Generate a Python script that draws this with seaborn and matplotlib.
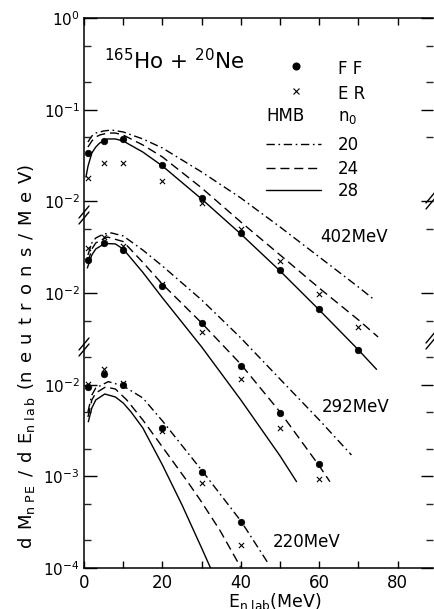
import numpy as np
import pandas as pd
import matplotlib
matplotlib.use("Agg")
import matplotlib.pyplot as plt
import seaborn as sns
from matplotlib.ticker import FixedLocator, FixedFormatter, NullFormatter

sns.set_theme(style="ticks")
plt.rcParams["font.family"] = ["DejaVu Sans"]
plt.rcParams["mathtext.fontset"] = "dejavusans"

# ---------------- data (values as labelled on each panel segment) ----------------
energies = ["402MeV", "292MeV", "220MeV"]
segment_factor = {"402MeV": 100.0, "292MeV": 10.0, "220MeV": 1.0}  # vertical display shift

# measured points
ff_x_402 = [1, 5, 10, 20, 30, 40, 50, 60, 70]
ff_y_402 = [0.0334, 0.0455, 0.0475, 0.0249, 0.0108, 0.00448, 0.00178, 6.7e-4, 2.39e-4]
er_x_402 = [1, 5, 10, 20, 30, 40, 50, 60, 70]
er_y_402 = [0.0178, 0.0264, 0.0264, 0.0168, 0.0096, 0.00495, 0.00223, 9.7e-4, 4.3e-4]

ff_x_292 = [1, 5, 10, 20, 30, 40, 50, 60]
ff_y_292 = [0.0229, 0.0348, 0.0295, 0.0120, 0.00468, 0.00161, 4.88e-4, 1.35e-4]
er_x_292 = [1, 5, 10, 20, 30, 40, 50, 60]
er_y_292 = [0.0308, 0.0405, 0.0326, 0.0125, 0.00379, 0.00115, 3.4e-4, 9.4e-5]

ff_x_220 = [1, 5, 10, 20, 30, 40]
ff_y_220 = [0.0095, 0.0132, 0.00985, 0.00334, 0.00111, 3.15e-4]
er_x_220 = [1, 5, 10, 20, 30, 40]
er_y_220 = [0.0102, 0.0147, 0.0104, 0.00315, 8.4e-4, 1.78e-4]

# HMB calculations, n0 = 20 / 24 / 28
hmb20_x_402 = [1, 2, 3, 5, 7, 10, 15, 20, 30, 40, 50, 60, 70, 74.1]
hmb20_y_402 = [0.0444, 0.0516, 0.0556, 0.0585, 0.0600, 0.0571, 0.0479, 0.0382, 0.0209,
               0.01087, 0.00525, 0.00247, 0.00116, 8.39e-4]
hmb24_x_402 = [1, 2, 3, 4, 6, 8, 10, 15, 20, 30, 40, 50, 60, 70, 75]
hmb24_y_402 = [0.0391, 0.0455, 0.0503, 0.0529, 0.0556, 0.0556, 0.0529, 0.0412, 0.0305,
               0.0140, 0.00595, 0.00260, 0.00113, 5.08e-4, 3.31e-4]
hmb28_x_402 = [0.5, 1, 2, 3, 4, 6, 8, 10, 15, 20, 30, 40, 50, 60, 70, 74.6]
hmb28_y_402 = [0.0184, 0.0240, 0.0337, 0.0391, 0.0433, 0.0479, 0.0479, 0.0455, 0.0345,
               0.0243, 0.0106, 0.00440, 0.00174, 6.53e-4, 2.39e-4, 1.47e-4]

hmb20_x_292 = [1, 2, 3, 5, 7, 10, 15, 20, 30, 40, 50, 60, 68.2]
hmb20_y_292 = [0.0260, 0.0352, 0.0398, 0.0440, 0.0452, 0.0419, 0.0294, 0.0197, 0.00840,
               0.00323, 0.00115, 4.12e-4, 1.71e-4]
hmb24_x_292 = [1, 2, 3, 6, 10, 15, 20, 30, 40, 50, 60, 62.7]
hmb24_y_292 = [0.0218, 0.0302, 0.0352, 0.0408, 0.0364, 0.0216, 0.01248, 0.00471, 0.00167,
               5.03e-4, 1.30e-4, 8.75e-5]
hmb28_x_292 = [0.85, 2, 3, 5.3, 8, 10, 15, 20, 30, 40, 50, 54.2]
hmb28_y_292 = [0.01875, 0.0260, 0.0302, 0.0347, 0.0343, 0.0302, 0.0168, 0.00886, 0.00258,
               6.81e-4, 1.67e-4, 8.75e-5]

hmb20_x_220 = [1, 2, 3, 6.2, 10, 15, 20, 30.4, 40, 47]
hmb20_y_220 = [0.00504, 0.00771, 0.00920, 0.01079, 0.00968, 0.00716, 0.00402, 0.00111,
               3.26e-4, 1.12e-4]
hmb24_x_220 = [1, 2, 3, 5.5, 8, 10.9, 15, 20, 26.1, 29.6, 34.6, 39.9]
hmb24_y_220 = [0.00444, 0.00681, 0.00811, 0.00944, 0.00897, 0.00681, 0.00412, 0.00209,
               9.12e-4, 5.55e-4, 2.60e-4, 1.03e-4]
hmb28_x_220 = [1.1, 2, 3, 5.3, 8, 10, 12, 15, 20, 25, 30, 32.5]
hmb28_y_220 = [0.00394, 0.00557, 0.00681, 0.00791, 0.00734, 0.00631, 0.00504, 0.00337,
               0.00133, 4.87e-4, 1.65e-4, 9.5e-5]

n0_values = ["20", "24", "28"]

# y-axis tick labels (broken axis: three stacked segments)
ytick_labels = ["$10^{-4}$", "$10^{-3}$", "$10^{-2}$", "$10^{-2}$", "$10^{-2}$", "$10^{-1}$", "$10^{0}$"]
xtick_labels = ["0", "20", "40", "60", "80"]

# ---------------- build frames ----------------
curves = {
    "402MeV": {"20": (hmb20_x_402, hmb20_y_402), "24": (hmb24_x_402, hmb24_y_402), "28": (hmb28_x_402, hmb28_y_402)},
    "292MeV": {"20": (hmb20_x_292, hmb20_y_292), "24": (hmb24_x_292, hmb24_y_292), "28": (hmb28_x_292, hmb28_y_292)},
    "220MeV": {"20": (hmb20_x_220, hmb20_y_220), "24": (hmb24_x_220, hmb24_y_220), "28": (hmb28_x_220, hmb28_y_220)},
}
points = {
    "402MeV": {"FF": (ff_x_402, ff_y_402), "ER": (er_x_402, er_y_402)},
    "292MeV": {"FF": (ff_x_292, ff_y_292), "ER": (er_x_292, er_y_292)},
    "220MeV": {"FF": (ff_x_220, ff_y_220), "ER": (er_x_220, er_y_220)},
}

rows = []
for e in energies:
    for n0 in n0_values:
        xs, ys = curves[e][n0]
        for xv, yv in zip(xs, ys):
            rows.append({"E": xv, "Y": yv * segment_factor[e], "n0": n0, "unit": e + n0})
df_lines = pd.DataFrame(rows)

prow = []
for e in energies:
    for kind in ["FF", "ER"]:
        xs, ys = points[e][kind]
        for xv, yv in zip(xs, ys):
            prow.append({"E": xv, "Y": yv * segment_factor[e], "kind": kind})
df_pts = pd.DataFrame(prow)

# ---------------- figure ----------------
W, H = 434, 609
fig = plt.figure(figsize=(W / 100, H / 100), dpi=100)
ax_l, ax_r, ax_t, ax_b = 84, 433, 18, 568
ax = fig.add_axes([ax_l / W, (H - ax_b) / H, (ax_r - ax_l) / W, (ax_b - ax_t) / H])
ax.set_facecolor("white")

dash_map = {"20": (6, 2.6, 1.2, 2.6), "24": (6.5, 3.5), "28": ""}
sns.lineplot(data=df_lines, x="E", y="Y", style="n0", units="unit", estimator=None,
             sort=False, dashes=dash_map, color="black", linewidth=1.0, legend=False, ax=ax)

sns.scatterplot(data=df_pts[df_pts["kind"] == "FF"], x="E", y="Y", marker="o", s=22,
                color="black", edgecolor="black", linewidth=0.5, legend=False, ax=ax, zorder=5)
sns.scatterplot(data=df_pts[df_pts["kind"] == "ER"], x="E", y="Y", marker="x", s=14,
                color="black", linewidth=0.8, legend=False, ax=ax, zorder=5)

ax.set_yscale("log")
ax.set_ylim(1e-4, 1e2)
ax.set_xlim(0, 89.0)

ax.yaxis.set_major_locator(FixedLocator([1e-4, 1e-3, 1e-2, 1e-1, 1e0, 1e1, 1e2]))
ax.yaxis.set_major_formatter(FixedFormatter(ytick_labels))
ax.yaxis.set_minor_locator(FixedLocator([2e-4, 5e-4, 2e-3, 5e-3, 2e-2, 5e-2, 5e-1, 5, 20, 50]))
ax.yaxis.set_minor_formatter(NullFormatter())

ax.xaxis.set_major_locator(FixedLocator([0, 20, 40, 60, 80]))
ax.xaxis.set_major_formatter(FixedFormatter(xtick_labels))
ax.xaxis.set_minor_locator(FixedLocator([10, 30, 50, 70]))

ax.tick_params(axis="y", which="major", direction="in", length=9, width=1.0,
               left=True, right=True, labelsize=11, pad=3, colors="black")
ax.tick_params(axis="y", which="minor", direction="in", length=5, width=1.0,
               left=True, right=True)
ax.tick_params(axis="x", which="both", direction="in", length=5, width=1.0,
               top=True, bottom=True, labelsize=12, pad=4, colors="black")

for side in ["left", "bottom", "top"]:
    ax.spines[side].set_linewidth(1.1)
    ax.spines[side].set_color("black")
ax.spines["right"].set_visible(False)

ax.set_xlabel(r"E$_{\mathrm{n\ lab}}$(MeV)", fontsize=12.5, color="black")
ax.xaxis.set_label_coords((275 - ax_l) / (ax_r - ax_l), -0.041)
ylab = (r"$\mathrm{d\;\,M}_{\mathrm{n\;P\,E}}\;\,/\;\,\mathrm{d\;\,E}_{\mathrm{n\;l\,a\,b}}"
        r"\;\,(\mathrm{n\;\,e\;\,u\;\,t\;\,r\;\,o\;\,n\;\,s}\;\,/\;\,\mathrm{M\;\,e\;\,V})$")
ax.set_ylabel(ylab, fontsize=13, color="black")
ax.yaxis.set_label_coords((37 - ax_l) / (ax_r - ax_l), (ax_b - 356) / (ax_b - ax_t))

def axf(px, py):
    return ((px - ax_l) / (ax_r - ax_l), (ax_b - py) / (ax_b - ax_t))

# axis-break marks
for bx, by in [(84, 215), (84, 347), (431, 200), (431, 340)]:
    for off in (-3, 3):
        x0, y0 = axf(bx - 5, by + off + 6)
        x1, y1 = axf(bx + 5, by + off - 6)
        ax.plot([x0, x1], [y0, y1], color="black", lw=1.0, transform=ax.transAxes, clip_on=False)

# title and annotations
tx, ty = axf(104, 69)
ax.text(tx, ty, r"$^{165}$Ho + $^{20}$Ne", transform=ax.transAxes, fontsize=15.5, color="black",
        ha="left", va="baseline")
for lab, (px, py) in zip(energies, [(320, 242), (322, 412), (273, 547)]):
    lx, ly = axf(px, py)
    ax.text(lx, ly, lab, transform=ax.transAxes, fontsize=12, color="black", ha="left", va="baseline")

# legend (drawn by hand, as in the figure)
mx, my = axf(296, 66)
ax.plot([mx], [my], marker="o", ms=4.8, color="black", transform=ax.transAxes, clip_on=False)
mx, my = axf(296, 91)
ax.plot([mx], [my], marker="x", ms=4, mew=0.8, color="black", transform=ax.transAxes, clip_on=False)
for txt, py in [("F F", 74), ("E R", 99)]:
    lx, ly = axf(338, py)
    ax.text(lx, ly, txt, transform=ax.transAxes, fontsize=12, ha="left", va="baseline", color="black")
lx, ly = axf(266, 121)
ax.text(lx, ly, "HMB", transform=ax.transAxes, fontsize=12, ha="left", va="baseline", color="black")
lx, ly = axf(338, 121)
ax.text(lx, ly, r"n$_0$", transform=ax.transAxes, fontsize=12, ha="left", va="baseline", color="black")
for n0, py in zip(n0_values, [144, 168, 190]):
    x0, yy = axf(266, py)
    x1, _ = axf(321, py)
    ln, = ax.plot([x0, x1], [yy, yy], color="black", lw=1.0, transform=ax.transAxes, clip_on=False)
    if dash_map[n0]:
        ln.set_dashes(dash_map[n0])
    lx, ly = axf(338, py + 6)
    ax.text(lx, ly, n0, transform=ax.transAxes, fontsize=12, ha="left", va="baseline", color="black")

fig.savefig("out.png", dpi=100, facecolor="white")
